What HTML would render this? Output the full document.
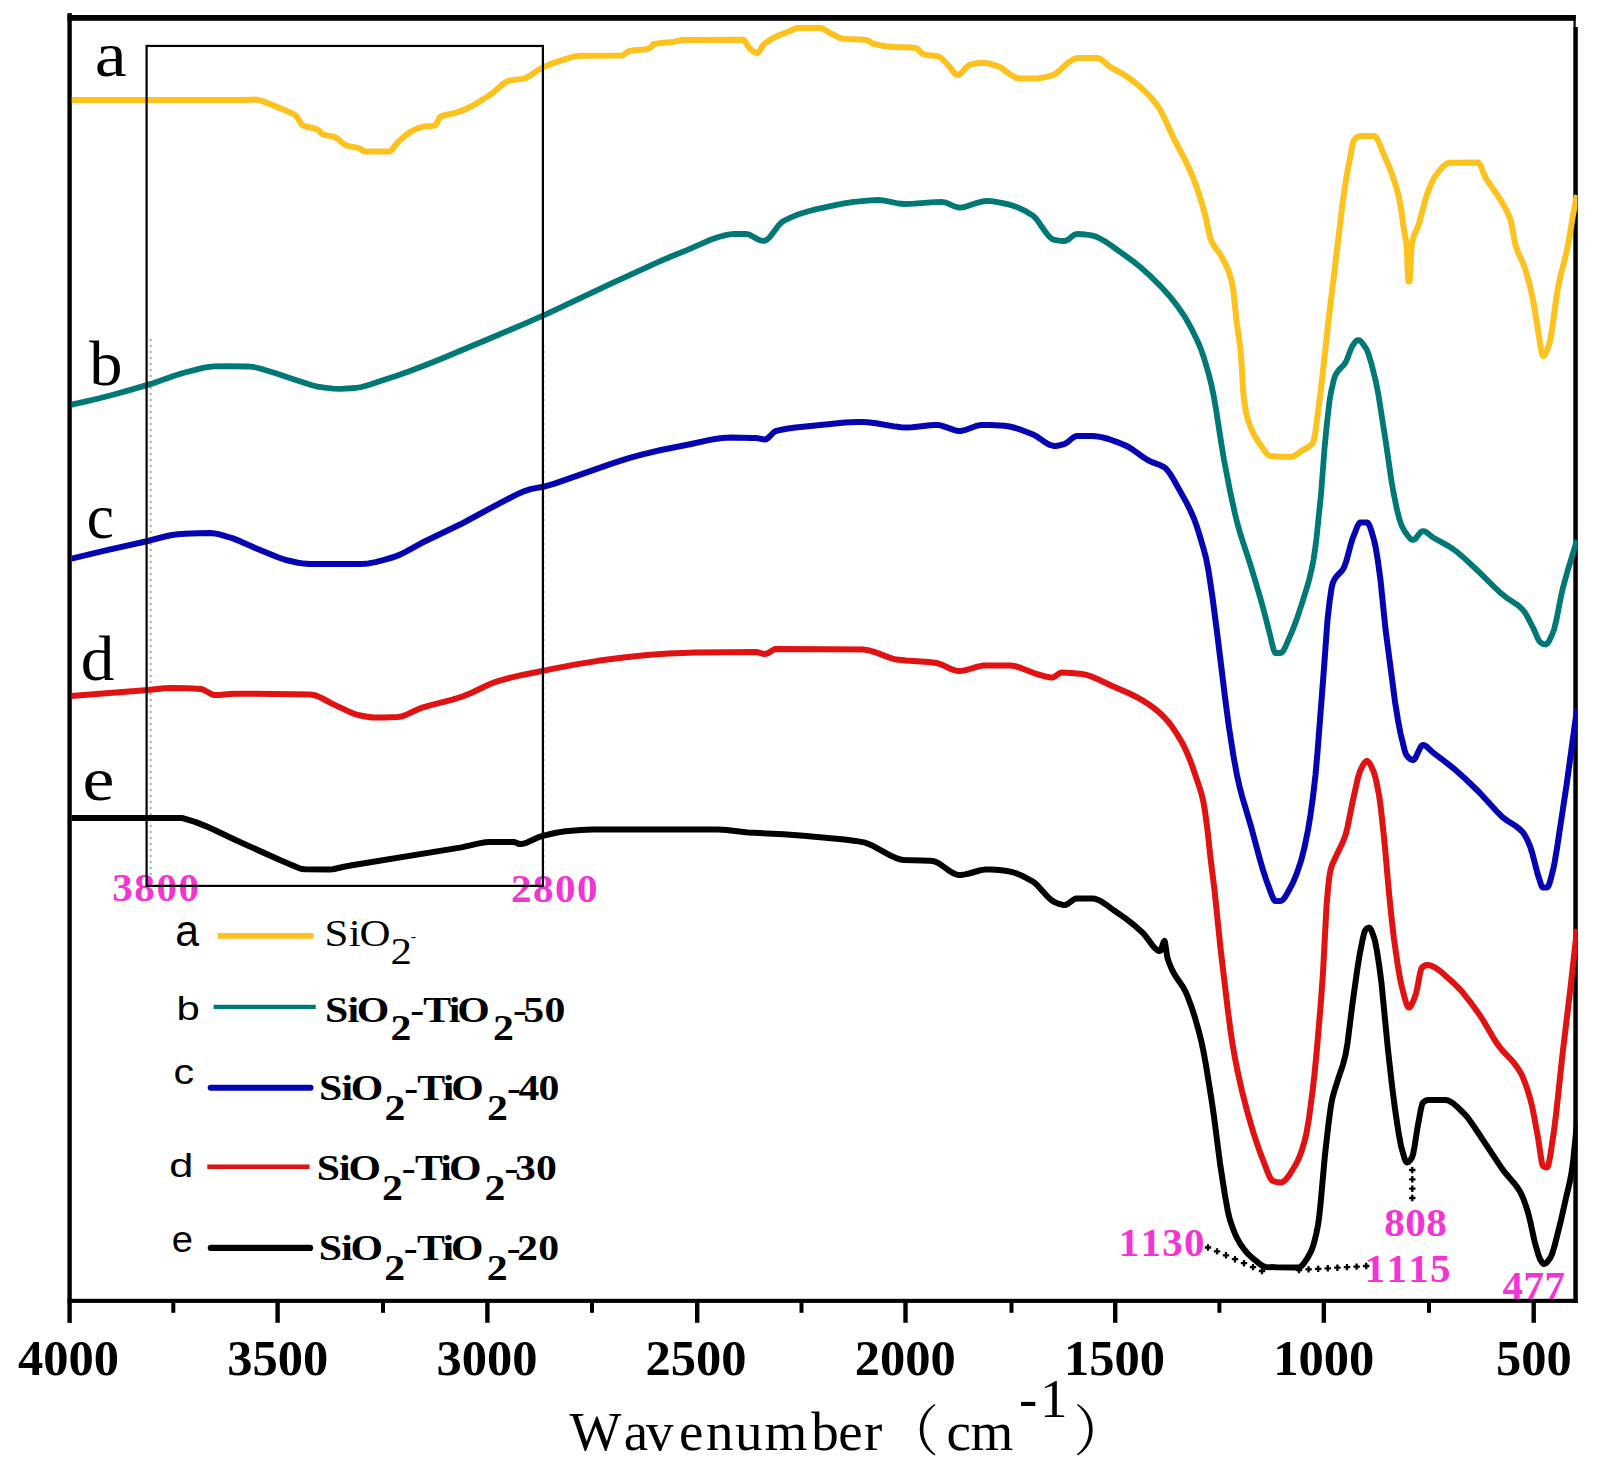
<!DOCTYPE html>
<html><head><meta charset="utf-8"><title>FTIR spectra</title>
<style>
html,body{margin:0;padding:0;background:#fff;}
svg{display:block;}
text{font-family:"Liberation Serif","Noto Serif CJK SC",serif;fill:#000;font-kerning:none;}
.tk{font-size:50.5px;font-weight:bold;}
.cl{font-size:62px;}
.lg{font-size:36px;font-weight:bold;}
.ll{font-family:"Liberation Sans",sans-serif;font-size:35px;}
.mg{font-size:41px;font-weight:bold;fill:#F234D4;}
.ax{font-size:55px;}
.cjk{font-family:"Noto Serif CJK SC","Liberation Serif",serif;}
</style></head><body>
<svg width="1604" height="1473" viewBox="0 0 1604 1473">
<rect width="1604" height="1473" fill="#fff"/>
<defs><clipPath id="plot"><rect x="71.8" y="20.8" width="1505.7" height="1278"/></clipPath></defs>
<!-- green dotted guides -->
<line x1="150.7" y1="339" x2="150.7" y2="884" stroke="#93ab93" stroke-width="1.8" stroke-dasharray="2,4"/>
<line x1="543.9" y1="345" x2="543.9" y2="884" stroke="#b4c4b4" stroke-width="1.2" stroke-dasharray="2,4"/>
<!-- frame -->
<rect x="67.4" y="13.1" width="4.4" height="1309.8" fill="#000"/>
<rect x="67.4" y="15" width="1508.3" height="5.8" fill="#000"/>
<rect x="1573.5" y="15" width="2.2" height="13" fill="#000"/>
<rect x="1573.3" y="27" width="4.5" height="1275.9" fill="#000"/>
<rect x="67.4" y="1298.8" width="1510.4" height="4.1" fill="#000"/>
<!-- curves -->
<g clip-path="url(#plot)">
<path d="M70.0,100.0 L245.0,100.0 L254.0,99.5 L257.0,99.7 L261.5,100.8 L264.0,101.6 L279.0,107.7 L291.5,113.0 L294.5,114.7 L296.5,116.3 L298.0,118.3 L301.0,123.4 L302.0,124.7 L303.0,125.5 L306.5,126.8 L314.0,128.3 L317.0,129.3 L318.5,130.2 L322.0,133.8 L323.5,134.6 L326.5,135.4 L332.5,136.4 L335.5,137.4 L338.0,139.0 L343.5,143.7 L346.0,145.2 L349.0,146.1 L356.5,147.6 L359.5,148.5 L361.0,149.1 L363.5,151.1 L364.5,151.5 L389.0,151.5 L390.0,151.3 L391.5,150.2 L397.0,143.1 L402.0,138.4 L407.0,134.2 L411.5,131.2 L417.5,128.4 L422.0,126.9 L425.0,126.4 L432.0,125.9 L435.0,125.5 L435.5,125.2 L436.5,123.9 L439.0,118.7 L440.0,117.1 L440.5,116.6 L444.5,115.2 L453.0,113.5 L456.5,112.6 L462.5,110.4 L469.5,107.2 L473.5,105.2 L478.0,102.6 L490.5,94.5 L494.0,91.8 L502.0,84.9 L504.5,83.0 L506.5,81.8 L508.5,80.9 L510.5,80.4 L522.0,78.9 L524.5,78.3 L526.0,77.8 L530.0,75.7 L537.5,70.4 L540.5,68.6 L545.5,66.2 L551.5,63.8 L557.0,61.8 L569.5,57.8 L573.5,56.7 L577.0,56.1 L584.0,55.8 L622.0,55.5 L623.5,54.9 L627.5,51.9 L629.5,50.9 L634.0,50.2 L645.0,49.4 L649.5,48.5 L650.5,47.8 L652.5,45.0 L653.5,44.2 L659.5,43.1 L673.5,41.9 L682.0,39.9 L743.5,39.8 L744.0,40.0 L745.0,41.1 L748.0,46.2 L749.5,48.1 L752.5,50.7 L754.5,52.1 L756.0,52.8 L757.5,53.0 L758.0,52.8 L759.0,51.7 L763.0,45.2 L766.0,42.6 L769.0,40.5 L773.0,38.1 L777.5,35.9 L790.5,30.8 L795.0,28.7 L796.5,28.2 L798.0,28.0 L820.5,28.0 L822.0,28.4 L823.5,29.0 L829.0,32.5 L837.5,36.9 L840.0,38.0 L842.5,38.7 L847.5,39.1 L860.5,39.5 L866.0,39.9 L868.0,40.6 L872.0,43.1 L873.5,43.8 L879.5,45.1 L886.0,46.2 L895.0,47.0 L910.0,47.5 L916.0,48.0 L917.5,48.8 L921.5,53.1 L922.5,53.9 L923.5,54.4 L927.0,55.0 L936.5,56.0 L938.5,56.5 L940.0,57.3 L943.0,59.8 L950.0,67.3 L955.0,73.5 L956.0,74.4 L957.0,74.9 L958.5,74.9 L960.5,73.7 L962.0,72.2 L966.5,67.1 L968.0,65.7 L969.0,65.1 L973.0,64.0 L977.0,63.2 L980.5,62.9 L983.5,63.0 L987.0,63.3 L990.5,64.0 L998.5,66.3 L1001.5,68.0 L1008.0,73.0 L1014.0,76.7 L1016.5,78.0 L1019.0,78.6 L1033.5,78.4 L1039.0,78.2 L1045.5,77.1 L1053.5,74.8 L1055.5,73.9 L1058.0,72.0 L1065.5,64.8 L1068.0,62.8 L1073.5,59.2 L1076.0,58.2 L1077.5,58.0 L1097.0,58.0 L1098.5,58.2 L1100.0,58.8 L1102.0,60.1 L1109.5,66.6 L1123.0,74.0 L1128.5,77.8 L1134.0,81.8 L1139.5,86.3 L1144.5,90.9 L1149.5,96.0 L1154.0,101.2 L1158.5,107.1 L1162.0,113.2 L1165.0,119.4 L1174.0,139.0 L1185.0,159.9 L1189.5,169.2 L1192.5,176.2 L1195.5,184.1 L1198.5,192.7 L1201.5,202.2 L1205.0,214.4 L1209.0,233.0 L1210.0,237.0 L1211.0,240.0 L1212.5,243.2 L1214.0,245.9 L1219.0,252.6 L1221.0,255.7 L1226.0,265.2 L1228.0,269.7 L1229.5,273.7 L1232.0,282.5 L1233.5,292.3 L1237.0,325.0 L1239.5,341.8 L1240.5,350.0 L1241.5,363.2 L1243.0,388.2 L1244.0,400.0 L1246.0,412.2 L1248.0,420.0 L1251.0,428.2 L1254.5,435.6 L1258.0,441.4 L1266.0,452.7 L1268.0,454.8 L1270.0,455.9 L1278.0,456.6 L1290.5,457.0 L1292.0,456.8 L1294.0,456.1 L1297.0,454.3 L1303.0,450.0 L1308.0,447.3 L1310.0,445.9 L1311.5,444.4 L1313.0,442.5 L1314.0,439.6 L1315.5,430.9 L1320.5,393.2 L1329.0,316.3 L1342.5,203.6 L1345.0,186.5 L1347.5,171.1 L1352.5,144.7 L1353.5,141.0 L1354.0,140.0 L1356.0,138.0 L1358.0,136.6 L1360.0,136.0 L1374.0,136.0 L1374.5,136.1 L1375.5,136.7 L1377.0,138.6 L1379.0,142.6 L1384.0,155.0 L1389.5,167.5 L1392.0,174.0 L1396.0,186.3 L1398.0,193.8 L1399.5,200.5 L1401.0,208.4 L1403.5,226.8 L1406.0,240.9 L1406.5,245.0 L1407.0,252.9 L1408.0,277.7 L1408.5,281.5 L1409.5,281.5 L1410.0,278.2 L1411.5,246.8 L1413.0,239.1 L1414.5,234.2 L1417.5,227.6 L1419.0,223.5 L1425.0,200.9 L1427.0,194.4 L1431.0,184.2 L1433.0,179.9 L1434.5,177.2 L1438.5,171.8 L1442.5,167.1 L1445.5,164.5 L1447.0,163.5 L1448.5,162.9 L1449.5,162.7 L1452.0,162.7 L1478.0,162.5 L1479.0,163.0 L1480.0,164.4 L1481.0,166.5 L1484.0,174.3 L1485.5,177.5 L1489.0,183.1 L1498.0,195.9 L1504.5,206.7 L1508.0,213.5 L1510.5,220.0 L1511.5,224.0 L1514.5,240.7 L1515.5,245.0 L1518.0,252.3 L1523.0,263.3 L1525.0,268.5 L1527.5,276.7 L1530.0,286.4 L1532.5,297.6 L1534.0,305.3 L1541.0,349.5 L1542.0,354.2 L1542.5,355.5 L1543.0,356.0 L1543.5,355.9 L1544.5,355.1 L1546.0,352.6 L1549.0,345.0 L1550.0,341.4 L1552.0,329.8 L1556.0,300.0 L1558.0,287.5 L1560.5,276.0 L1565.5,256.4 L1567.5,247.5 L1569.0,239.5 L1573.0,215.0 L1577.0,195.0" fill="none" stroke="#FDC21E" stroke-width="6" stroke-linejoin="round" stroke-linecap="butt"/>
<path d="M70.0,405.0 L84.0,401.9 L98.5,398.5 L114.0,394.5 L130.5,389.9 L151.0,383.9 L173.5,375.9 L183.0,373.0 L203.0,367.9 L209.0,366.8 L214.0,366.3 L226.5,366.2 L246.0,366.5 L250.5,366.7 L254.5,367.2 L260.0,368.5 L275.0,373.0 L293.5,379.2 L312.0,385.2 L317.5,386.6 L324.5,387.7 L333.0,388.6 L340.5,388.8 L355.5,388.0 L361.5,387.0 L369.5,384.8 L382.0,380.5 L396.0,375.9 L408.0,371.7 L422.5,366.3 L439.0,359.7 L491.5,337.8 L522.5,324.6 L548.0,313.3 L565.5,305.2 L610.5,283.8 L658.0,262.1 L671.0,256.5 L687.0,250.1 L708.0,240.8 L714.0,238.5 L719.5,236.7 L725.5,235.1 L731.5,234.2 L735.5,234.0 L746.5,234.0 L748.5,234.4 L750.5,235.2 L757.5,239.1 L760.0,240.3 L762.5,240.9 L764.5,240.9 L765.5,240.5 L767.0,239.6 L769.5,237.4 L772.0,234.3 L778.5,225.6 L781.5,222.4 L783.5,221.0 L791.0,217.4 L796.5,215.1 L802.5,213.0 L808.5,211.2 L815.5,209.4 L836.5,204.8 L845.5,203.1 L854.0,201.9 L870.0,200.3 L878.5,200.0 L884.5,200.7 L898.5,203.5 L904.5,204.0 L914.0,203.7 L934.5,202.2 L942.5,202.0 L944.5,202.3 L946.5,202.9 L955.5,206.8 L957.5,207.3 L959.5,207.5 L962.5,207.3 L966.0,206.6 L978.0,202.6 L982.5,201.5 L986.5,201.0 L991.5,201.2 L996.0,201.8 L1001.5,202.8 L1008.5,204.4 L1013.0,205.7 L1017.5,207.3 L1022.0,209.4 L1026.5,211.7 L1031.0,214.4 L1033.5,216.1 L1036.5,219.3 L1039.0,222.6 L1045.5,232.0 L1048.5,235.8 L1051.0,238.3 L1053.5,239.7 L1056.0,240.2 L1060.5,240.8 L1064.0,241.0 L1065.5,240.9 L1068.0,239.7 L1072.5,236.1 L1074.5,234.7 L1076.0,234.1 L1078.0,234.0 L1085.5,234.5 L1090.0,235.1 L1092.5,235.6 L1095.0,236.3 L1098.0,237.5 L1104.0,240.7 L1111.0,245.3 L1132.5,260.8 L1141.5,268.1 L1150.5,276.2 L1161.0,286.6 L1169.5,296.0 L1177.5,306.1 L1184.5,316.3 L1188.0,322.3 L1192.0,329.7 L1196.0,337.9 L1199.0,344.5 L1201.5,350.8 L1204.0,358.0 L1208.5,373.2 L1211.5,385.3 L1213.5,394.8 L1216.0,409.2 L1221.5,444.8 L1224.0,459.8 L1230.0,490.9 L1235.0,513.9 L1237.5,523.9 L1240.5,534.5 L1251.0,566.7 L1260.0,596.8 L1264.0,611.3 L1270.5,636.9 L1273.0,647.4 L1274.0,650.8 L1275.0,652.7 L1275.5,653.0 L1280.5,653.0 L1281.5,652.7 L1282.5,651.8 L1283.5,650.5 L1285.5,646.7 L1292.5,630.4 L1296.5,619.9 L1301.5,604.8 L1306.5,588.9 L1309.0,580.2 L1311.5,569.9 L1313.5,559.7 L1315.0,549.8 L1316.5,538.0 L1321.0,494.6 L1324.5,448.9 L1326.5,427.5 L1329.0,405.0 L1330.0,397.9 L1331.5,389.8 L1334.0,379.1 L1335.0,376.1 L1336.0,374.0 L1338.5,370.4 L1343.5,365.3 L1345.5,362.5 L1347.0,359.4 L1350.5,350.1 L1352.0,346.7 L1353.0,345.0 L1355.5,341.6 L1356.5,340.7 L1357.5,340.1 L1359.0,340.2 L1360.0,340.7 L1361.0,341.6 L1363.0,343.9 L1366.0,348.3 L1367.0,350.3 L1368.5,354.1 L1371.5,363.9 L1376.0,382.2 L1378.5,395.2 L1386.0,443.2 L1391.5,481.3 L1394.0,495.2 L1397.0,509.8 L1399.5,519.5 L1401.0,523.8 L1402.5,527.3 L1405.0,531.8 L1408.5,536.6 L1410.5,538.8 L1411.5,539.5 L1412.5,539.9 L1414.0,539.7 L1415.0,539.1 L1416.0,538.1 L1419.5,533.5 L1421.0,531.9 L1422.5,531.1 L1424.0,531.1 L1425.0,531.5 L1426.5,532.3 L1433.0,537.5 L1449.0,546.4 L1453.0,549.0 L1457.0,552.0 L1464.5,558.4 L1479.5,572.4 L1495.0,587.7 L1501.0,593.3 L1506.0,597.3 L1517.0,604.6 L1520.0,607.0 L1522.5,609.5 L1525.0,612.6 L1528.0,617.8 L1533.5,628.5 L1537.5,637.9 L1539.0,640.8 L1540.0,642.1 L1541.5,643.1 L1543.5,644.1 L1545.5,644.5 L1546.0,644.4 L1547.0,643.8 L1548.0,642.7 L1549.0,641.1 L1551.5,636.0 L1554.0,629.7 L1556.5,619.5 L1561.0,596.4 L1563.0,587.5 L1567.5,571.2 L1577.0,540.0" fill="none" stroke="#007876" stroke-width="5.8" stroke-linejoin="round" stroke-linecap="butt"/>
<path d="M70.0,559.0 L107.0,550.2 L149.0,540.7 L165.0,536.5 L172.0,535.0 L178.0,534.2 L185.0,533.7 L198.5,533.2 L210.5,533.0 L214.5,533.4 L218.5,534.2 L233.0,538.4 L240.5,541.4 L257.0,548.8 L278.5,557.5 L287.0,560.3 L298.0,562.7 L304.0,563.6 L309.5,564.0 L360.5,564.0 L364.5,563.8 L368.5,563.4 L375.5,562.1 L384.0,559.9 L394.0,557.0 L400.0,554.6 L406.0,551.6 L421.0,543.3 L460.5,524.3 L469.5,519.5 L490.5,508.1 L513.0,496.4 L519.0,493.4 L524.0,491.3 L530.5,489.1 L543.0,486.8 L548.5,485.4 L554.5,483.6 L612.5,463.3 L628.0,458.3 L642.5,454.3 L661.0,450.0 L690.0,444.2 L710.0,439.9 L716.5,438.7 L722.5,438.0 L731.0,437.5 L752.5,437.9 L757.0,438.1 L763.0,439.3 L765.5,439.5 L766.5,439.1 L768.0,438.1 L773.0,433.0 L775.0,431.4 L776.5,430.9 L781.5,429.7 L788.0,428.5 L795.5,427.5 L833.0,423.7 L845.0,422.6 L858.0,422.0 L863.0,422.0 L867.5,422.2 L876.0,423.3 L895.5,426.6 L901.0,427.2 L905.5,427.5 L912.5,427.3 L930.0,425.3 L934.5,425.0 L938.0,425.0 L940.5,425.4 L943.0,426.1 L954.5,430.2 L957.0,430.8 L959.0,431.0 L961.5,430.9 L964.5,430.2 L975.5,426.2 L980.0,425.1 L982.0,425.0 L990.0,425.1 L1004.5,425.7 L1009.5,426.5 L1015.5,428.0 L1022.0,430.2 L1032.5,434.2 L1036.5,436.3 L1044.5,441.9 L1047.5,443.8 L1050.5,445.2 L1053.5,445.9 L1056.0,445.9 L1058.5,445.6 L1065.0,443.8 L1067.5,442.3 L1073.5,437.3 L1075.0,436.5 L1076.5,436.0 L1092.0,436.0 L1095.5,436.2 L1101.5,437.1 L1108.5,439.0 L1116.5,441.8 L1127.0,446.1 L1132.0,449.1 L1143.0,457.0 L1148.0,460.2 L1152.0,462.1 L1160.5,465.3 L1164.0,467.2 L1166.0,468.7 L1168.5,471.6 L1171.0,475.2 L1174.0,480.2 L1186.5,502.6 L1190.5,510.7 L1194.0,518.8 L1196.5,525.5 L1199.0,533.3 L1203.5,548.5 L1206.0,558.0 L1208.5,570.7 L1212.5,597.5 L1217.0,632.0 L1225.5,701.1 L1229.0,727.4 L1233.5,756.2 L1237.0,775.3 L1239.5,786.4 L1242.0,796.1 L1251.5,828.2 L1259.5,858.0 L1262.5,868.4 L1266.5,880.8 L1272.0,895.6 L1273.5,899.0 L1274.5,900.5 L1275.0,900.9 L1275.5,901.0 L1280.5,901.0 L1282.0,900.5 L1283.0,899.7 L1284.5,897.9 L1287.5,893.0 L1293.0,882.6 L1297.0,872.9 L1301.0,860.9 L1304.5,847.3 L1308.0,830.0 L1310.5,814.9 L1313.0,796.7 L1315.5,775.0 L1317.5,752.3 L1324.0,668.0 L1327.5,619.9 L1329.5,602.3 L1331.5,588.5 L1332.5,584.0 L1333.0,582.5 L1334.5,579.3 L1336.5,576.4 L1342.0,570.7 L1343.5,568.4 L1344.5,566.4 L1346.5,560.5 L1350.5,545.4 L1352.5,538.8 L1357.5,526.0 L1359.0,523.5 L1360.0,522.6 L1367.0,522.5 L1367.5,522.6 L1368.5,523.7 L1370.0,526.8 L1371.5,531.2 L1374.0,540.0 L1375.5,546.5 L1377.5,558.2 L1380.5,580.0 L1385.5,629.2 L1395.0,701.7 L1398.0,720.2 L1400.5,733.4 L1404.5,749.8 L1405.5,753.0 L1406.5,755.3 L1408.5,757.6 L1410.5,759.2 L1412.0,759.9 L1413.5,759.9 L1414.5,759.1 L1415.5,757.7 L1420.0,748.2 L1421.5,745.9 L1422.5,745.1 L1423.0,745.0 L1424.5,745.3 L1426.0,746.1 L1428.0,747.8 L1432.5,752.1 L1446.0,762.3 L1453.5,768.3 L1465.0,778.5 L1479.5,792.5 L1495.5,810.1 L1502.5,817.1 L1507.0,820.5 L1516.5,826.6 L1520.5,829.9 L1523.5,833.1 L1525.5,836.3 L1528.0,841.4 L1530.5,847.5 L1532.5,854.0 L1537.5,873.5 L1541.0,884.5 L1542.0,886.7 L1542.5,887.3 L1543.0,887.5 L1547.0,887.5 L1547.5,887.3 L1548.5,885.9 L1549.5,883.3 L1550.5,879.9 L1553.5,867.9 L1554.5,863.1 L1557.0,848.2 L1566.5,785.4 L1577.0,709.0" fill="none" stroke="#0404B2" stroke-width="6" stroke-linejoin="round" stroke-linecap="butt"/>
<path d="M70.0,696.0 L148.0,690.0 L164.5,688.3 L172.0,688.0 L188.0,688.2 L201.0,688.9 L204.0,690.0 L211.0,693.9 L213.0,694.7 L214.5,695.0 L219.0,694.9 L230.0,693.9 L234.5,693.8 L275.5,693.9 L310.5,694.5 L314.5,695.2 L318.5,696.6 L322.5,698.5 L332.0,703.6 L348.5,711.4 L353.5,713.6 L358.0,715.0 L367.0,716.8 L373.0,717.4 L384.0,717.4 L398.0,717.0 L401.5,716.4 L405.5,715.1 L418.0,709.3 L423.0,707.3 L432.0,704.8 L452.5,699.6 L462.5,696.5 L470.5,693.2 L489.5,684.3 L494.5,682.3 L499.5,680.7 L510.5,677.7 L523.5,674.7 L555.0,668.4 L576.0,664.4 L599.5,660.6 L623.5,657.5 L647.0,655.0 L668.5,653.6 L682.5,652.9 L694.5,652.5 L756.0,652.0 L758.0,652.3 L763.5,653.9 L765.5,654.0 L766.5,653.7 L768.0,653.1 L773.5,649.7 L775.0,649.1 L776.0,649.0 L827.5,649.2 L864.0,649.6 L868.0,650.2 L872.5,651.3 L877.0,652.9 L889.5,657.6 L893.5,658.8 L897.0,659.6 L906.0,660.6 L928.5,661.9 L936.5,662.9 L941.5,664.6 L952.0,669.4 L955.0,670.4 L957.5,670.9 L960.5,671.0 L964.5,670.4 L968.0,669.5 L977.5,666.6 L982.5,665.6 L1010.5,665.5 L1014.0,665.9 L1017.5,666.8 L1021.5,668.2 L1034.5,673.3 L1045.0,676.4 L1049.5,677.3 L1052.0,677.5 L1053.5,677.2 L1055.0,676.4 L1059.5,673.3 L1061.0,672.6 L1062.0,672.5 L1071.0,672.9 L1082.5,674.1 L1087.0,675.0 L1092.5,676.9 L1098.0,679.3 L1110.5,685.3 L1129.0,693.3 L1137.5,697.5 L1143.5,700.9 L1149.0,704.5 L1154.0,708.1 L1159.0,712.3 L1164.0,717.0 L1168.0,721.4 L1172.5,727.3 L1177.0,734.1 L1182.0,742.5 L1184.5,747.3 L1188.5,756.3 L1192.0,765.2 L1199.5,787.4 L1201.5,793.9 L1203.5,802.4 L1205.0,811.4 L1207.5,830.1 L1210.5,858.0 L1214.5,890.0 L1220.5,948.2 L1228.0,1011.5 L1230.5,1030.5 L1232.5,1044.0 L1235.0,1058.3 L1237.5,1071.0 L1242.0,1091.2 L1247.5,1112.5 L1253.5,1133.1 L1259.5,1150.9 L1267.5,1171.9 L1269.0,1175.5 L1270.5,1178.4 L1271.5,1179.8 L1272.5,1180.7 L1275.0,1181.6 L1278.0,1182.3 L1280.5,1182.5 L1282.0,1182.2 L1283.5,1181.5 L1285.5,1179.8 L1287.5,1177.6 L1289.5,1174.8 L1295.5,1165.0 L1298.5,1159.1 L1301.5,1151.3 L1304.5,1141.3 L1306.5,1133.0 L1309.0,1118.2 L1312.5,1091.6 L1314.5,1074.1 L1317.0,1048.0 L1320.5,1007.0 L1323.0,972.8 L1326.5,906.0 L1328.0,888.6 L1329.5,875.5 L1330.5,870.0 L1332.0,865.1 L1337.0,854.1 L1342.5,842.9 L1345.5,835.0 L1347.5,827.2 L1352.5,802.2 L1357.0,781.8 L1358.5,775.8 L1360.0,771.1 L1361.5,768.0 L1363.5,764.2 L1364.5,762.8 L1365.5,761.7 L1366.5,761.1 L1367.5,761.1 L1369.0,762.4 L1371.0,765.7 L1373.5,771.2 L1374.5,774.2 L1376.0,779.9 L1379.0,795.0 L1380.5,805.3 L1383.0,827.8 L1385.0,847.8 L1389.0,893.0 L1392.0,922.2 L1394.0,939.2 L1397.5,963.7 L1400.0,978.4 L1401.5,985.5 L1404.5,997.3 L1406.0,1002.5 L1407.0,1005.1 L1408.0,1006.9 L1408.5,1007.3 L1409.0,1007.5 L1409.5,1007.4 L1410.5,1006.5 L1412.0,1003.9 L1413.5,1000.4 L1416.0,993.4 L1417.0,989.2 L1420.0,973.4 L1421.0,969.5 L1421.5,968.2 L1422.0,967.5 L1424.0,966.0 L1426.0,965.1 L1427.0,965.0 L1429.0,965.2 L1432.0,966.0 L1435.5,967.8 L1439.0,970.2 L1443.5,973.9 L1455.0,984.3 L1459.0,988.3 L1463.0,992.8 L1470.5,1002.3 L1479.5,1014.7 L1483.5,1021.0 L1493.5,1038.1 L1498.0,1045.0 L1502.5,1050.6 L1511.0,1059.5 L1515.0,1064.2 L1519.0,1070.0 L1521.0,1073.4 L1522.5,1076.5 L1525.0,1082.6 L1527.5,1089.9 L1530.5,1100.0 L1532.0,1106.1 L1534.0,1115.8 L1538.0,1137.5 L1541.5,1161.0 L1542.5,1165.2 L1543.0,1166.0 L1545.0,1167.1 L1547.0,1167.5 L1547.5,1167.1 L1548.5,1164.6 L1550.0,1157.2 L1554.0,1130.8 L1556.5,1110.4 L1562.5,1054.3 L1570.5,987.5 L1577.0,929.0" fill="none" stroke="#E01212" stroke-width="6" stroke-linejoin="round" stroke-linecap="butt"/>
<path d="M70.0,818.0 L181.0,818.0 L183.5,818.3 L195.0,821.9 L204.5,825.6 L214.0,829.8 L235.5,840.0 L281.0,860.5 L300.0,868.5 L302.0,869.1 L305.0,869.3 L329.0,869.5 L333.0,869.2 L344.0,866.7 L352.0,865.3 L461.5,847.4 L479.0,843.4 L485.5,842.3 L490.5,842.0 L513.5,842.0 L515.0,842.3 L519.0,843.9 L520.0,844.0 L522.0,843.9 L524.5,843.3 L527.5,842.3 L539.5,836.8 L547.5,834.7 L556.0,832.8 L563.0,831.6 L568.5,831.0 L581.0,830.0 L593.0,829.5 L718.0,829.5 L726.5,830.1 L748.0,832.5 L783.5,834.3 L803.5,835.8 L844.5,839.5 L855.5,840.9 L864.0,842.4 L867.5,843.5 L871.5,845.2 L876.5,847.8 L890.5,855.6 L895.5,857.8 L899.5,859.2 L902.0,859.7 L904.5,860.0 L929.5,860.8 L932.5,861.0 L935.0,861.6 L937.5,862.7 L940.0,864.1 L949.0,870.6 L952.0,872.5 L955.0,874.0 L958.0,874.9 L961.0,875.0 L965.0,874.4 L969.0,873.5 L979.5,870.5 L982.5,869.9 L985.5,869.5 L991.5,869.6 L999.0,870.1 L1007.5,871.1 L1012.0,872.0 L1016.5,873.4 L1021.5,875.5 L1027.0,878.3 L1033.0,881.6 L1035.0,883.1 L1037.5,885.5 L1047.0,896.1 L1051.0,899.8 L1053.0,901.2 L1054.5,902.0 L1059.0,903.9 L1062.0,904.7 L1064.5,905.0 L1066.5,904.6 L1068.5,903.4 L1073.5,899.7 L1075.0,898.9 L1076.5,898.5 L1092.5,898.5 L1095.0,898.8 L1097.5,899.6 L1101.0,901.3 L1105.5,904.2 L1114.5,910.8 L1125.5,918.4 L1136.0,926.7 L1143.5,933.5 L1146.0,936.6 L1153.0,946.1 L1155.0,948.3 L1157.0,950.0 L1159.0,950.9 L1160.0,951.0 L1160.5,950.7 L1161.5,948.4 L1163.5,942.3 L1164.0,941.3 L1164.5,941.0 L1165.0,942.0 L1167.0,955.6 L1167.5,958.0 L1169.0,962.5 L1171.0,967.5 L1173.5,972.6 L1176.0,976.7 L1183.0,987.0 L1185.5,991.6 L1187.5,996.2 L1191.5,1006.9 L1195.0,1017.7 L1198.5,1030.1 L1201.5,1042.1 L1203.5,1051.6 L1206.0,1065.2 L1211.5,1099.5 L1214.0,1116.6 L1220.0,1163.2 L1224.5,1192.5 L1227.5,1209.5 L1229.0,1216.3 L1230.0,1220.0 L1233.0,1228.9 L1236.0,1236.1 L1239.5,1242.7 L1243.0,1247.8 L1247.5,1253.3 L1252.5,1258.2 L1261.0,1264.9 L1263.0,1266.1 L1265.0,1266.9 L1276.0,1267.3 L1293.5,1267.5 L1298.5,1267.5 L1300.0,1267.0 L1301.5,1266.0 L1303.5,1263.9 L1307.0,1258.8 L1311.0,1251.5 L1312.0,1249.1 L1313.5,1244.6 L1315.0,1239.1 L1316.5,1232.6 L1318.0,1225.0 L1319.0,1218.3 L1320.5,1204.4 L1325.0,1154.6 L1328.5,1123.9 L1331.0,1105.4 L1332.5,1097.7 L1334.0,1092.1 L1338.0,1079.3 L1343.0,1064.6 L1345.5,1055.0 L1347.5,1043.2 L1352.5,1003.6 L1357.0,971.3 L1359.5,955.3 L1362.5,940.0 L1364.0,933.6 L1365.0,930.8 L1365.5,930.0 L1367.0,928.4 L1368.0,927.8 L1369.0,927.5 L1370.0,928.1 L1371.0,929.6 L1372.0,931.9 L1374.0,937.5 L1375.0,941.0 L1377.0,951.2 L1379.5,967.8 L1381.5,983.1 L1388.0,1050.0 L1392.0,1085.5 L1395.0,1109.0 L1398.5,1132.4 L1401.0,1146.0 L1404.5,1158.4 L1405.5,1160.9 L1406.5,1162.3 L1407.0,1162.5 L1408.0,1162.2 L1409.0,1161.5 L1410.0,1160.5 L1412.0,1157.5 L1413.0,1154.6 L1414.5,1146.8 L1417.5,1127.6 L1420.5,1111.2 L1422.0,1104.6 L1422.5,1103.3 L1423.0,1102.5 L1425.5,1100.7 L1427.5,1100.0 L1445.5,1100.0 L1447.0,1100.2 L1449.0,1100.8 L1452.5,1102.8 L1456.5,1106.2 L1464.0,1113.5 L1466.5,1116.2 L1469.0,1119.4 L1474.0,1126.5 L1502.0,1168.6 L1506.0,1173.8 L1515.0,1184.2 L1517.5,1187.6 L1520.0,1191.6 L1521.5,1194.5 L1523.5,1199.1 L1525.5,1204.7 L1528.0,1212.5 L1530.0,1220.4 L1534.5,1241.2 L1538.5,1255.2 L1540.0,1259.1 L1542.0,1262.4 L1543.5,1263.9 L1544.5,1263.9 L1546.0,1263.2 L1548.0,1261.1 L1550.5,1257.5 L1552.0,1254.3 L1554.5,1246.2 L1561.0,1220.2 L1566.0,1197.8 L1569.5,1183.3 L1571.5,1173.1 L1573.0,1162.2 L1577.0,1123.0" fill="none" stroke="#000000" stroke-width="6" stroke-linejoin="round" stroke-linecap="butt"/>
</g>
<!-- curve labels -->
<text transform="translate(94.76,76.20) scale(1.154,1)" class="cl" style="font-size:62.5px">a</text>
<text transform="translate(89.20,384.50) scale(1.063,1)" class="cl" style="font-size:62.5px">b</text>
<text transform="translate(86.66,538.40) scale(0.981,1)" class="cl" style="font-size:62.5px">c</text>
<text transform="translate(80.87,680.00) scale(1.077,1)" class="cl" style="font-size:62.5px">d</text>
<text transform="translate(82.39,800.30) scale(1.159,1)" class="cl" style="font-size:62px">e</text>

<!-- magenta annotations -->
<text x="112.21" y="901.0" class="mg" style="font-size:41px;letter-spacing:1.62px">3800</text>
<text x="511.08" y="902.3" class="mg" style="font-size:41px;letter-spacing:1.49px">2800</text>
<text x="1118.72" y="1256.0" class="mg" style="font-size:41px;letter-spacing:1.28px">1130</text>
<text x="1364.72" y="1282.3" class="mg" style="font-size:41px;letter-spacing:1.26px">1115</text>
<text x="1384.14" y="1236.0" class="mg" style="font-size:41px;letter-spacing:0.61px">808</text>
<text x="1502.44" y="1299.0" class="mg" style="font-size:41px;letter-spacing:0.53px">477</text>

<path d="M1409.1,1170.0h6.4M1412.3,1166.8v6.4" stroke="#000" stroke-width="2.3" fill="none"/><path d="M1409.1,1179.3h6.4M1412.3,1176.1v6.4" stroke="#000" stroke-width="2.3" fill="none"/><path d="M1409.1,1188.7h6.4M1412.3,1185.5v6.4" stroke="#000" stroke-width="2.3" fill="none"/><path d="M1409.1,1198.0h6.4M1412.3,1194.8v6.4" stroke="#000" stroke-width="2.3" fill="none"/>
<path d="M1204.8,1247.5h6.4M1208.0,1244.3v6.4" stroke="#000" stroke-width="2.3" fill="none"/><path d="M1213.8,1251.4h6.4M1217.0,1248.2v6.4" stroke="#000" stroke-width="2.3" fill="none"/><path d="M1222.8,1255.3h6.4M1226.0,1252.1v6.4" stroke="#000" stroke-width="2.3" fill="none"/><path d="M1231.8,1259.2h6.4M1235.0,1256.0v6.4" stroke="#000" stroke-width="2.3" fill="none"/><path d="M1240.8,1263.2h6.4M1244.0,1260.0v6.4" stroke="#000" stroke-width="2.3" fill="none"/><path d="M1249.8,1267.1h6.4M1253.0,1263.9v6.4" stroke="#000" stroke-width="2.3" fill="none"/><path d="M1258.8,1271.0h6.4M1262.0,1267.8v6.4" stroke="#000" stroke-width="2.3" fill="none"/>
<path d="M1295.8,1270.0h6.4M1299.0,1266.8v6.4" stroke="#000" stroke-width="2.3" fill="none"/><path d="M1305.4,1269.4h6.4M1308.6,1266.2v6.4" stroke="#000" stroke-width="2.3" fill="none"/><path d="M1315.0,1268.9h6.4M1318.2,1265.7v6.4" stroke="#000" stroke-width="2.3" fill="none"/><path d="M1324.6,1268.3h6.4M1327.8,1265.1v6.4" stroke="#000" stroke-width="2.3" fill="none"/><path d="M1334.2,1267.7h6.4M1337.4,1264.5v6.4" stroke="#000" stroke-width="2.3" fill="none"/><path d="M1343.8,1267.1h6.4M1347.0,1263.9v6.4" stroke="#000" stroke-width="2.3" fill="none"/><path d="M1353.4,1266.6h6.4M1356.6,1263.4v6.4" stroke="#000" stroke-width="2.3" fill="none"/><path d="M1363.0,1266.0h6.4M1366.2,1262.8v6.4" stroke="#000" stroke-width="2.3" fill="none"/>

<!-- inset rectangle -->
<rect x="146.6" y="45.95" width="396.3" height="839.95" fill="none" stroke="#000" stroke-width="2.2"/>
<!-- legend -->
<text transform="translate(175.28,946.30) scale(0.962,1)" class="ll" style="font-size:44.5px">a</text>
<text transform="translate(176.41,1020.20) scale(1.230,1)" class="ll" style="font-size:34px">b</text>
<text transform="translate(173.45,1084.40) scale(1.170,1)" class="ll" style="font-size:35.3px">c</text>
<text transform="translate(169.18,1176.60) scale(1.275,1)" class="ll" style="font-size:34px">d</text>
<text transform="translate(171.78,1251.70) scale(1.051,1)" class="ll" style="font-size:36.3px">e</text>

<line x1="217.7" y1="935.9" x2="313.5" y2="935.9" stroke="#FDC21E" stroke-width="5.9"/>
<line x1="213.6" y1="1006.9" x2="315.7" y2="1006.9" stroke="#007876" stroke-width="4.1"/>
<line x1="210.7" y1="1087.8" x2="310.5" y2="1087.8" stroke="#0404B2" stroke-width="6.1" stroke-linecap="round"/>
<line x1="207.3" y1="1166.8" x2="309.5" y2="1166.8" stroke="#E01212" stroke-width="4.4"/>
<line x1="210.8" y1="1247.9" x2="310.1" y2="1247.9" stroke="#000" stroke-width="6.2" stroke-linecap="round"/>
<text transform="scale(1.16,1)" class="lg" style="font-weight:normal;font-size:37px"><tspan x="279.68 300.60 309.95 336.74" y="946.0 946.0 946.0 964.2">SiO2</tspan><tspan x="354.14" y="941.2" style="font-size:14px">-</tspan></text>
<text transform="scale(1.16,1)" class="lg" x="280.24 299.55 307.64 336.59 353.60 364.95 386.88 394.28 424.95 442.22 451.14 469.40" y="1022.3 1022.3 1022.3 1040.0 1022.3 1022.3 1022.3 1022.3 1040.0 1022.3 1022.3 1022.3">SiO2-TiO2-50</text>
<text transform="scale(1.16,1)" class="lg" x="275.07 294.38 302.47 331.42 348.42 359.78 381.71 389.10 419.78 437.04 446.92 464.23" y="1100.0 1100.0 1100.0 1120.3 1100.0 1100.0 1100.0 1100.0 1120.3 1100.0 1100.0 1100.0">SiO2-TiO2-40</text>
<text transform="scale(1.16,1)" class="lg" x="273.00 292.31 300.40 329.35 346.35 357.71 379.64 387.04 417.71 434.97 443.99 462.16" y="1180.5 1180.5 1180.5 1200.0 1180.5 1180.5 1180.5 1180.5 1200.0 1180.5 1180.5 1180.5">SiO2-TiO2-30</text>
<text transform="scale(1.16,1)" class="lg" x="274.81 294.12 302.21 331.16 348.16 359.52 381.45 388.85 419.52 436.79 445.64 463.97" y="1260.0 1260.0 1260.0 1280.0 1260.0 1260.0 1260.0 1260.0 1280.0 1260.0 1260.0 1260.0">SiO2-TiO2-20</text>

<rect x="275.4" y="1300" width="4.4" height="22.8" fill="#000"/>
<rect x="485.2" y="1300" width="4.4" height="22.8" fill="#000"/>
<rect x="695.0" y="1300" width="4.4" height="22.8" fill="#000"/>
<rect x="903.3" y="1300" width="4.4" height="22.8" fill="#000"/>
<rect x="1113.0" y="1300" width="4.4" height="22.8" fill="#000"/>
<rect x="1321.6" y="1300" width="4.4" height="22.8" fill="#000"/>
<rect x="1531.5" y="1300" width="4.4" height="22.8" fill="#000"/>
<rect x="171.3" y="1300" width="4" height="12.8" fill="#000"/>
<rect x="381.0" y="1300" width="4" height="12.8" fill="#000"/>
<rect x="590.0" y="1300" width="4" height="12.8" fill="#000"/>
<rect x="799.5" y="1300" width="4" height="12.8" fill="#000"/>
<rect x="1009.5" y="1300" width="4" height="12.8" fill="#000"/>
<rect x="1217.4" y="1300" width="4" height="12.8" fill="#000"/>
<rect x="1427.0" y="1300" width="4" height="12.8" fill="#000"/>

<text x="18.0" y="1375" class="tk">4000</text>
<text x="227.2" y="1375" class="tk">3500</text>
<text x="436.4" y="1375" class="tk">3000</text>
<text x="645.6" y="1375" class="tk">2500</text>
<text x="854.8" y="1375" class="tk">2000</text>
<text x="1064.0" y="1375" class="tk">1500</text>
<text x="1273.2" y="1375" class="tk">1000</text>
<text x="1496.0" y="1375" class="tk">500</text>

<text class="ax" y="1449.7"><tspan x="569.5 623.8 646.0 678.9 706.0 734.9 764.5 811.2 838.2 864.0">Wavenumber</tspan><tspan class="cjk" x="883.9">（</tspan><tspan x="946.6 970.6">cm</tspan><tspan x="1019.0 1039.9" y="1416.5">-1</tspan><tspan class="cjk" x="1073.5" y="1449.7">）</tspan></text>

</svg>
</body></html>
